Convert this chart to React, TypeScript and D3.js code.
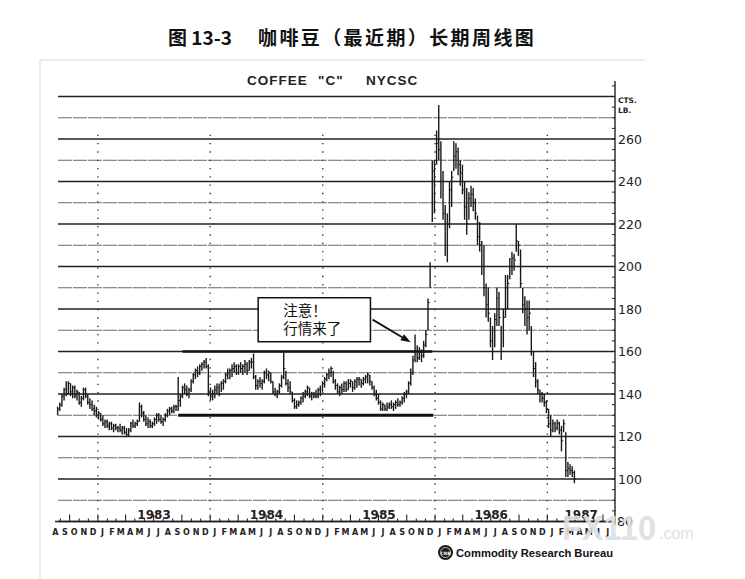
import React from 'react';
import * as d3 from 'd3';

// weekly bars, first week starting 1982-08-23
const FIRST_WEEK = new Date(1982, 7, 23);

const HIGHS = [
  134, 136, 140, 143, 146, 146, 145, 144, 144, 142,
  141, 139, 143, 143, 140, 138, 137, 135, 134, 132,
  131, 130, 128, 128, 127, 127, 126, 126, 125, 126,
  125, 125, 124, 124, 127, 128, 127, 128, 136, 135,
  132, 130, 129, 128, 127, 129, 131, 131, 130, 129,
  131, 133, 134, 134, 135, 135, 148, 140, 144, 145,
  144, 143, 147, 150, 152, 153, 154, 155, 156, 157,
  154, 143, 142, 144, 145, 145, 146, 147, 150, 152,
  152, 154, 155, 154, 154, 155, 154, 156, 155, 156,
  157, 159, 149, 147, 148, 147, 151, 152, 151, 150,
  146, 143, 142, 145, 149, 160, 151, 147, 146, 141,
  138, 137, 137, 139, 141, 142, 144, 143, 141, 141,
  142, 143, 144, 146, 148, 150, 152, 153, 151, 147,
  145, 144, 145, 146, 146, 147, 147, 146, 147, 148,
  148, 147, 148, 149, 150, 149, 146, 144, 142, 140,
  137, 136, 135, 136, 136, 137, 136, 137, 138, 137,
  139, 141, 142, 146, 152, 158, 168, 163, 162, 161,
  165, 170, 185, 202, 250, 250, 264, 276, 259, 245,
  229, 225, 240, 245, 259, 258, 256, 250, 248, 240,
  237, 235, 238, 237, 232, 224, 221, 212, 210, 192,
  190, 176, 172, 178, 190, 188, 172, 180, 196, 196,
  204, 207, 206, 220, 212, 208, 190, 186, 184, 184,
  172, 160, 155, 147, 142, 141, 140, 137, 133, 130,
  128, 127, 128, 127, 125, 128, 122, 108, 107, 106,
  104,
];

const LOWS = [
  130, 132, 134, 137, 139, 140, 139, 138, 138, 137,
  135, 134, 137, 138, 135, 133, 132, 130, 129, 128,
  127, 125, 124, 124, 123, 123, 122, 123, 122, 122,
  121, 121, 120, 120, 122, 124, 124, 125, 127, 129,
  127, 125, 124, 124, 124, 125, 126, 127, 126, 125,
  127, 129, 130, 131, 131, 132, 132, 134, 138, 140,
  139, 138, 141, 145, 147, 148, 149, 151, 152, 152,
  139, 137, 137, 138, 140, 139, 141, 142, 145, 147,
  147, 148, 150, 149, 149, 150, 149, 150, 149, 151,
  152, 147, 142, 142, 143, 142, 145, 147, 146, 145,
  140, 139, 138, 140, 143, 147, 144, 141, 140, 136,
  133, 133, 134, 135, 136, 138, 139, 138, 137, 138,
  138, 138, 139, 141, 143, 146, 147, 148, 145, 142,
  140, 139, 140, 141, 141, 142, 143, 141, 142, 143,
  144, 143, 144, 145, 145, 144, 142, 139, 137, 135,
  132, 132, 132, 132, 133, 133, 132, 133, 134, 134,
  135, 136, 138, 140, 144, 149, 155, 155, 156, 155,
  157, 162, 170, 190, 221, 225, 248, 250, 232, 222,
  205, 202, 218, 228, 245, 246, 243, 238, 234, 222,
  215, 222, 228, 226, 222, 210, 207, 196, 186, 176,
  174, 162, 156, 162, 172, 172, 156, 162, 176, 180,
  194, 196, 198, 207, 205, 190, 178, 172, 168, 170,
  158, 148, 143, 140, 136, 136, 134, 131, 124, 120,
  122, 122, 123, 121, 113, 122, 101, 101, 102, 101,
  98,
];

const CLOSES = [
  133, 135, 139, 142, 140, 145, 141, 143, 139, 141,
  136, 138, 142, 139, 136, 135, 133, 132, 130, 131,
  128, 126, 127, 125, 126, 124, 125, 124, 124, 123,
  124, 122, 121, 123, 126, 125, 126, 127, 134, 131,
  128, 126, 127, 125, 126, 128, 130, 128, 127, 128,
  130, 132, 133, 132, 134, 134, 137, 139, 143, 142,
  140, 142, 146, 149, 151, 150, 153, 154, 155, 153,
  141, 139, 140, 142, 143, 140, 145, 146, 149, 150,
  151, 152, 153, 150, 153, 152, 153, 154, 151, 155,
  155, 148, 144, 146, 145, 146, 150, 149, 150, 146,
  141, 140, 141, 144, 148, 152, 145, 143, 141, 137,
  134, 135, 136, 138, 139, 141, 143, 139, 140, 139,
  139, 142, 140, 145, 147, 149, 150, 152, 146, 144,
  141, 143, 142, 145, 142, 145, 146, 143, 146, 147,
  147, 145, 147, 148, 149, 146, 143, 140, 138, 136,
  133, 135, 133, 134, 135, 134, 135, 136, 135, 136,
  138, 140, 141, 145, 150, 156, 160, 157, 160, 158,
  163, 168, 183, 200, 245, 248, 258, 255, 240, 225,
  210, 220, 236, 242, 252, 254, 248, 244, 236, 228,
  220, 232, 234, 230, 225, 214, 210, 200, 190, 182,
  178, 165, 160, 175, 185, 176, 160, 176, 190, 192,
  200, 204, 203, 212, 210, 192, 182, 180, 176, 178,
  160, 152, 146, 142, 140, 138, 136, 133, 126, 123,
  126, 124, 126, 123, 118, 126, 104, 105, 104, 103,
  100,
];

const PRICE_LABELS = [100, 120, 140, 160, 180, 200, 220, 240, 260];
const GRID_LEVELS = [80, 90, 100, 110, 120, 130, 140, 150, 160, 170, 180, 190, 200, 210, 220, 230, 240, 250, 260, 270, 280];
const MONTH_LETTERS = ['J', 'F', 'M', 'A', 'M', 'J', 'J', 'A', 'S', 'O', 'N', 'D'];
const YEARS = [1983, 1984, 1985, 1986, 1987];

// hand-drawn support / resistance lines (week index range, price level)
const TREND_LINES = [
  { from: 58, to: 174, level: 160, width: 2.6 },
  { from: 56, to: 174.5, level: 130, width: 3.2 },
];

const CALLOUT_TEXT = ['注意！', '行情来了'];
const CALLOUT_BOX = { fromWeek: 93.2, toWeek: 145.3, top: 185.3, bottom: 164.6 };
const CALLOUT_ARROW = { fromWeek: 146.3, fromValue: 175, toWeek: 164, toValue: 164.3 };

const W = 745;
const H = 579;

const weekDate = (i: number) => new Date(1982, 7, 23 + Math.round(i * 7));

const App: React.FC = () => {
  const x = d3.scaleTime()
    .domain([new Date(1982, 7, 21), new Date(1987, 7, 9)])
    .range([57, 615]);
  const y = d3.scaleLinear().domain([80, 280]).range([521.5, 96.5]);
  const wx = (i: number) => x(d3.timeDay.offset(FIRST_WEEK, i * 7));

  const months = d3.timeMonth.range(new Date(1982, 7, 1), new Date(1987, 7, 1));
  const axisY = y(80);
  const right = x.range()[1];
  const left = x.range()[0];

  const bars = HIGHS.map((h, i) => ({ x: x(weekDate(i)), h, l: LOWS[i], c: CLOSES[i] }));

  const ax0 = wx(CALLOUT_ARROW.fromWeek);
  const ay0 = y(CALLOUT_ARROW.fromValue);
  const ax1 = wx(CALLOUT_ARROW.toWeek);
  const ay1 = y(CALLOUT_ARROW.toValue);
  const ang = Math.atan2(ay1 - ay0, ax1 - ax0);
  const headLen = 10;
  const headW = 3.5;
  const hb = [ax1 - headLen * Math.cos(ang), ay1 - headLen * Math.sin(ang)];
  const head = [
    [ax1, ay1],
    [hb[0] + headW * Math.sin(ang), hb[1] - headW * Math.cos(ang)],
    [hb[0] - headW * Math.sin(ang), hb[1] + headW * Math.cos(ang)],
  ];

  const bx0 = wx(CALLOUT_BOX.fromWeek);
  const bx1 = wx(CALLOUT_BOX.toWeek);
  const by0 = y(CALLOUT_BOX.top);
  const by1 = y(CALLOUT_BOX.bottom);

  const sans = '"DejaVu Sans", sans-serif';
  const cjk = '"Noto Sans CJK SC", sans-serif';

  return (
    <svg width={W} height={H} style={{ position: 'absolute', left: 0, top: 0, background: '#fff' }}>
      <rect width={W} height={H} fill="#fff" />
      {/* scan edge */}
      <line x1={40} y1={60} x2={645} y2={60} stroke="#dcdcdc" strokeWidth={1} />
      <line x1={40} y1={60} x2={40} y2={H} stroke="#dcdcdc" strokeWidth={1} />

      <text x={168} y={45} fontFamily={cjk} fontWeight={700} fontSize={19} fill="#111">图 13-3</text>
      <text x={258} y={45} fontFamily={cjk} fontWeight={700} fontSize={19} fill="#111" letterSpacing={2.4}>咖啡豆（最近期）长期周线图</text>

      <text y={85} fontFamily='"Liberation Sans", sans-serif' fontWeight={700} fontSize={13.5} fill="#222" letterSpacing={1}>
        <tspan x={247}>COFFEE</tspan>
        <tspan x={318}>"C"</tspan>
        <tspan x={366}>NYCSC</tspan>
      </text>

      {/* horizontal grid */}
      {GRID_LEVELS.map((v) => {
        const major = v % 20 === 0;
        return (
          <line key={v} x1={left + 1} x2={right} y1={y(v)} y2={y(v)}
            stroke={major ? '#222' : '#6a6a6a'} strokeWidth={major ? 1.5 : 1}
            strokeDasharray={major ? undefined : '14 1'} />
        );
      })}

      {/* year boundaries, dotted */}
      {YEARS.map((yr) => (
        <line key={yr} x1={x(new Date(yr, 0, 1))} x2={x(new Date(yr, 0, 1))} y1={y(262)} y2={axisY - 2}
          stroke="#333" strokeWidth={1.4} strokeDasharray="1.3 7" />
      ))}

      {/* right price axis */}
      <line x1={right} x2={right} y1={81} y2={axisY + 3} stroke="#222" strokeWidth={1.4} />
      {d3.range(80, 286, 5).map((v) => (
        <line key={v} x1={right - 3} x2={right} y1={y(v)} y2={y(v)} stroke="#222" strokeWidth={1} />
      ))}
      {PRICE_LABELS.map((v) => (
        <text key={v} x={right + 3} y={y(v) + 4.5} fontFamily={sans} fontSize={12.5} fill="#222">{v}</text>
      ))}
      <text x={right + 2} y={y(80) + 4.5} fontFamily={sans} fontSize={12.5} fill="#222">80</text>
      <text x={right + 3} y={103} fontFamily={sans} fontWeight={700} fontSize={7.5} fill="#222">CTS.</text>
      <text x={right + 3} y={113} fontFamily={sans} fontWeight={700} fontSize={7.5} fill="#222">LB.</text>

      {/* time axis */}
      <line x1={left - 2} x2={right} y1={axisY} y2={axisY} stroke="#222" strokeWidth={1.5} />
      {months.map((m, i) => {
        const q = m.getMonth() % 3 === 0;
        const xm = x(m);
        if (xm < left) return null;
        return (
          <line key={i} x1={xm} x2={xm} y1={axisY} y2={axisY - (q ? 7 : 3)} stroke="#222" strokeWidth={1.1} />
        );
      })}
      {months.map((m, i) => (
        <text key={'m' + i} x={x(d3.timeDay.offset(m, 15))} y={534.5} textAnchor="middle"
          fontFamily={sans} fontWeight={700} fontSize={8} fill="#222">
          {MONTH_LETTERS[m.getMonth()]}
        </text>
      ))}
      {YEARS.map((yr) => {
        const a = x(new Date(yr, 0, 1));
        const b = Math.min(x(new Date(yr + 1, 0, 1)), right);
        return (
          <text key={'y' + yr} x={(a + b) / 2} y={519} textAnchor="middle"
            fontFamily={sans} fontWeight={700} fontSize={12} fill="#222">{yr}</text>
        );
      })}

      {/* trend lines */}
      {TREND_LINES.map((t, i) => (
        <line key={'t' + i} x1={wx(t.from)} x2={wx(t.to)} y1={y(t.level)} y2={y(t.level)}
          stroke="#111" strokeWidth={t.width} />
      ))}

      {/* weekly price bars */}
      {bars.map((b, i) => (
        <g key={'b' + i} stroke="#1a1a1a">
          <line x1={b.x} x2={b.x} y1={y(b.h)} y2={y(b.l)} strokeWidth={1.4} />
          <line x1={b.x} x2={b.x + 1.8} y1={y(b.c)} y2={y(b.c)} strokeWidth={1} />
        </g>
      ))}

      {/* callout */}
      <rect x={bx0} y={by0} width={bx1 - bx0} height={by1 - by0} fill="#fff" stroke="#111" strokeWidth={1.5} />
      {CALLOUT_TEXT.map((t, i) => (
        <text key={'c' + i} x={bx0 + 25} y={by0 + 18.5 + i * 18} fontFamily={cjk} fontSize={14.5} fill="#111">{t}</text>
      ))}
      <line x1={ax0} y1={ay0} x2={hb[0]} y2={hb[1]} stroke="#111" strokeWidth={1.8} />
      <polygon points={head.map((p) => p.join(',')).join(' ')} fill="#111" />

      {/* watermark */}
      <text x={562} y={540} fontFamily='"Liberation Sans", sans-serif' fontWeight={700} fontSize={35}
        fill="#dedede" fillOpacity={0.92} textLength={94} lengthAdjust="spacingAndGlyphs">FX110</text>
      <text x={659} y={539} fontFamily='"Liberation Sans", sans-serif' fontSize={16} fill="#e2e2e2">.com</text>

      {/* publisher */}
      <circle cx={445.5} cy={552.5} r={7.5} fill="#1a1a1a" />
      <circle cx={445.5} cy={552.5} r={5} fill="none" stroke="#fff" strokeWidth={0.7} />
      <text x={445.5} y={554.5} textAnchor="middle" fontFamily={sans} fontSize={4.5} fontWeight={700} fill="#fff">CRB</text>
      <text x={456} y={557} fontFamily='"Liberation Sans", sans-serif' fontWeight={700} fontSize={11.5}
        fill="#111" textLength={157} lengthAdjust="spacingAndGlyphs">Commodity Research Bureau</text>
    </svg>
  );
};

export default App;
